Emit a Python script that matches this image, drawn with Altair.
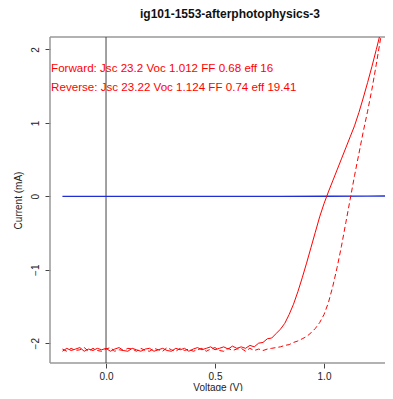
import altair as alt
import pandas as pd

# ---- data ----
title_text = "ig101-1553-afterphotophysics-3"
fwd_label = "Forward: Jsc 23.2 Voc 1.012 FF 0.68 eff 16"
rev_label = "Reverse: Jsc 23.22 Voc 1.124 FF 0.74 eff 19.41"

volt = [-0.20, -0.18, -0.16, -0.14, -0.12, -0.10, -0.08, -0.06, -0.04, -0.02,
        0.00, 0.02, 0.04, 0.06, 0.08, 0.10, 0.12, 0.14, 0.16, 0.18,
        0.20, 0.22, 0.24, 0.26, 0.28, 0.30, 0.32, 0.34, 0.36, 0.38,
        0.40, 0.42, 0.44, 0.46, 0.48, 0.50, 0.52, 0.54, 0.56, 0.58,
        0.60, 0.62, 0.64, 0.66, 0.68, 0.70, 0.72, 0.74, 0.76, 0.78,
        0.80, 0.82, 0.84, 0.86, 0.88, 0.90, 0.92, 0.94, 0.96, 0.98,
        1.00, 1.02, 1.04, 1.06, 1.08, 1.10, 1.12, 1.14, 1.16, 1.18,
        1.20, 1.22, 1.24, 1.26, 1.28]

forward = [-2.11, -2.07, -2.10, -2.08, -2.06, -2.11, -2.08, -2.10, -2.07, -2.09,
           -2.07, -2.11, -2.08, -2.06, -2.10, -2.11, -2.07, -2.09, -2.11, -2.08,
           -2.07, -2.11, -2.09, -2.07, -2.10, -2.11, -2.07, -2.09, -2.07, -2.11,
           -2.08, -2.06, -2.09, -2.07, -2.05, -2.09, -2.07, -2.05, -2.08, -2.04,
           -2.07, -2.05, -2.07, -2.03, -2.05, -2.00, -1.99, -1.94, -1.93, -1.87,
           -1.81, -1.73, -1.61, -1.47, -1.30, -1.11, -0.91, -0.70, -0.49, -0.28,
           -0.10, 0.06, 0.21, 0.36, 0.51, 0.66, 0.81, 0.96, 1.14, 1.34,
           1.55, 1.77, 2.00, 2.24, 2.48]

reverse = [-2.08, -2.11, -2.07, -2.10, -2.09, -2.06, -2.11, -2.07, -2.10, -2.11,
           -2.08, -2.06, -2.11, -2.09, -2.10, -2.07, -2.08, -2.11, -2.07, -2.10,
           -2.11, -2.07, -2.09, -2.11, -2.06, -2.09, -2.11, -2.07, -2.10, -2.08,
           -2.11, -2.09, -2.07, -2.11, -2.08, -2.06, -2.10, -2.11, -2.07, -2.10,
           -2.08, -2.07, -2.11, -2.07, -2.10, -2.08, -2.10, -2.08, -2.07, -2.06,
           -2.05, -2.03, -2.02, -1.99, -1.97, -1.94, -1.91, -1.86, -1.80, -1.72,
           -1.61, -1.45, -1.23, -0.97, -0.68, -0.36, -0.04, 0.28, 0.58, 0.88,
           1.16, 1.46, 1.80, 2.16, 2.52]

dark_volt = [-0.20, 0.40, 0.80, 1.00, 1.20, 1.40]
dark_curr = [0.0, 0.0, 0.0, 0.001, 0.003, 0.006]

x_ticks = [0.0, 0.5, 1.0]
y_ticks = [-2, -1, 0, 1, 2]

x_dom = [-0.257, 1.2798]
y_dom = [-2.27, 2.17]

# ---- tables ----
light = pd.DataFrame({"V": volt, "fwd": forward, "rev": reverse})
dark = pd.DataFrame({"V": dark_volt, "I": dark_curr})
labels = pd.DataFrame({"V": [-0.252, -0.252], "I": [1.74, 1.48],
                       "t": [fwd_label, rev_label]})
zero = pd.DataFrame({"V": [0.0]})
frame_v = pd.DataFrame({"V": [x_dom[0]]})
frame_h = pd.DataFrame({"I": [y_dom[0], y_dom[1]]})

xs = alt.Scale(domain=x_dom, nice=False, zero=False)
ys = alt.Scale(domain=y_dom, nice=False, zero=False)

xax = alt.Axis(values=x_ticks, format=".1f", title="Voltage (V)", grid=False,
               domain=False, tickSize=5, tickColor="#444", labelPadding=3,
               labelFontSize=10, labelColor="#222", titleFontSize=10,
               titleFontWeight="normal", titleColor="#222", titlePadding=1)
yax = alt.Axis(values=y_ticks, format="d", title="Current (mA)", grid=False,
               domain=False, tickSize=5, tickColor="#444", labelAngle=270,
               labelAlign="center", labelBaseline="bottom", labelPadding=5,
               labelFontSize=10, labelColor="#222", titleFontSize=10,
               titleFontWeight="normal", titleColor="#222", titlePadding=7)

base_x = alt.X("V:Q", scale=xs, axis=xax)

fwd_line = alt.Chart(light).mark_line(color="#ff0000", strokeWidth=1, clip=True).encode(
    x=base_x, y=alt.Y("fwd:Q", scale=ys, axis=yax))
rev_line = alt.Chart(light).mark_line(color="#ff0000", strokeWidth=1,
                                      strokeDash=[5, 3], clip=True).encode(
    x=alt.X("V:Q", scale=xs), y=alt.Y("rev:Q", scale=ys))
dark_line = alt.Chart(dark).mark_line(color="#1f2fd6", strokeWidth=1.3, clip=True).encode(
    x=alt.X("V:Q", scale=xs), y=alt.Y("I:Q", scale=ys))
vline = alt.Chart(zero).mark_rule(color="#444", strokeWidth=1).encode(
    x=alt.X("V:Q", scale=xs))
box_left = alt.Chart(frame_v).mark_rule(color="#999", strokeWidth=1.5).encode(
    x=alt.X("V:Q", scale=xs))
box_tb = alt.Chart(frame_h).mark_rule(color="#999", strokeWidth=1.5).encode(
    y=alt.Y("I:Q", scale=ys))
txt = alt.Chart(labels).mark_text(align="left", baseline="middle", fontSize=11.6,
                                  color="#ff0000", font="Liberation Sans").encode(
    x=alt.X("V:Q", scale=xs), y=alt.Y("I:Q", scale=ys), text="t:N")

chart = alt.layer(box_left, box_tb, vline, dark_line, fwd_line, rev_line, txt).properties(
    width=335, height=326,
    title=alt.TitleParams(title_text, fontSize=12, fontWeight="bold",
                          font="Liberation Sans", anchor="middle", dx=12.5,
                          baseline="bottom", offset=3, color="#111"),
    autosize=alt.AutoSizeParams(type="none"),
    padding={"left": 42, "top": 29, "right": 0, "bottom": 28},
).configure(font="Liberation Sans").configure_view(stroke=None)

chart.save("out.html", embed_options={"renderer": "svg", "actions": False})
